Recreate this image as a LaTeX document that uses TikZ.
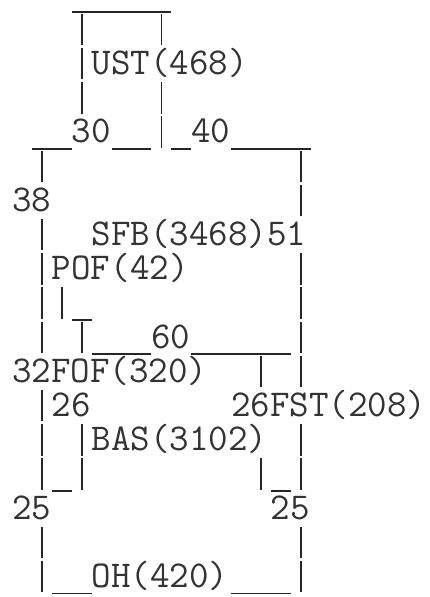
\documentclass[tikz,border=0pt]{standalone}
\begin{document}
\begin{tikzpicture}[x=1pt,y=-1pt,
  bar/.style={line width=1.8pt,black!85},
  uline/.style={line width=1.8pt,black!85},
  lbl/.style={inner sep=0pt,outer sep=0pt,anchor=base west,text=black!80,
    font=\ttfamily\fontsize{37.9}{40}\selectfont}]
\useasboundingbox (0,0) rectangle (429,597);
% vertical strokes (the | characters)
\foreach \c/\r in {4/1,8/1,4/2,4/3,8/3,8/4,2/5,15/5,15/6,2/7,2/8,15/8,
  2/9,3/9,15/9,2/10,4/10,15/10,13/11,15/11,2/12,2/13,4/13,15/13,
  2/14,4/14,13/14,15/14,2/16,15/16,2/17,15/17}
  \draw[bar] ({2.2+19.9*\c},{-4+34.2*\r-16.5}) -- ({2.2+19.9*\c},{-4+34.2*\r+15});
% horizontal strokes (runs of _ characters)
\foreach \r/\a/\b in {0/4/8,4/2/3,4/6/7,4/9/9,4/12/15,9/4/4,10/5/7,10/10/14,
  14/3/3,14/14/14,17/3/4,17/12/14}
  \draw[uline] ({2.2+19.9*\a-9.95},{-4+34.2*\r+16}) -- ({2.2+19.9*\b+9.95},{-4+34.2*\r+16});
% labels
\node[lbl] (ust) at ({2.2+19.9*5-9.95},{-4+34.2*2+10}) {UST(468)};
\node[lbl] (n30) at ({2.2+19.9*4-9.95},{-4+34.2*4+10}) {30};
\node[lbl] (n40) at ({2.2+19.9*10-9.95},{-4+34.2*4+10}) {40};
\node[lbl] (n38) at ({2.2+19.9*1-9.95},{-4+34.2*6+10}) {38};
\node[lbl] (sfb) at ({2.2+19.9*5-9.95},{-4+34.2*7+10}) {SFB(3468)51};
\node[lbl] (pof) at ({2.2+19.9*3-9.95},{-4+34.2*8+10}) {POF(42)};
\node[lbl] (n60) at ({2.2+19.9*8-9.95},{-4+34.2*10+10}) {60};
\node[lbl] (fof) at ({2.2+19.9*1-9.95},{-4+34.2*11+10}) {32FOF(320)};
\node[lbl] (n26) at ({2.2+19.9*3-9.95},{-4+34.2*12+10}) {26};
\node[lbl] (fst) at ({2.2+19.9*12-9.95},{-4+34.2*12+10}) {26FST(208)};
\node[lbl] (bas) at ({2.2+19.9*5-9.95},{-4+34.2*13+10}) {BAS(3102)};
\node[lbl] (n25a) at ({2.2+19.9*1-9.95},{-4+34.2*15+10}) {25};
\node[lbl] (n25b) at ({2.2+19.9*14-9.95},{-4+34.2*15+10}) {25};
\node[lbl] (oh) at ({2.2+19.9*5-9.95},{-4+34.2*17+10}) {OH(420)};
\end{tikzpicture}
\end{document}
